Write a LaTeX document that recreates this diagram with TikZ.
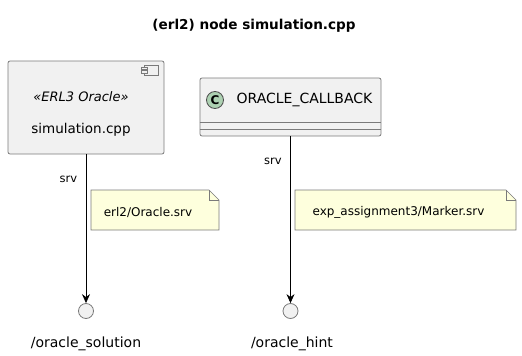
\documentclass[tikz,border=0pt]{standalone}
\usepackage{fontspec}
\setmainfont{DejaVu Sans}
\usepackage{xcolor}
\usepackage{tikz}
\usetikzlibrary{arrows.meta,positioning}
\definecolor{boxfill}{HTML}{F1F1F1}
\definecolor{boxline}{HTML}{7A7A7A}
\definecolor{notefill}{HTML}{FEFFDD}
\definecolor{classicon}{HTML}{ADD1B2}

\tikzset{
  elem/.style={draw=boxline, fill=boxfill, rounded corners=2pt, line width=0.8pt},
  iface/.style={draw=boxline, fill=boxfill, circle, inner sep=0pt, minimum size=15pt, line width=0.8pt},
  notetext/.style={font=\fontsize{12}{14}\selectfont},
  call/.style={-{Stealth[length=9pt,width=8pt,inset=3pt]}, line width=0.8pt},
}

\begin{document}
\begin{tikzpicture}[x=1pt, y=-1pt]
        \useasboundingbox (0,0) rectangle (522,356);

        \path
        (254,26) node(title) {\fontsize{13.6}{16}\selectfont\bfseries (erl2) node simulation.cpp}
        (86,107.5) node[elem, minimum width=156pt, minimum height=93pt](sim) {}
        (81,97) node(stereo) {\fontsize{13}{15}\selectfont\itshape «ERL3 Oracle»}
        (81,130) node(simname) {\fontsize{13.5}{16}\selectfont simulation.cpp}
        (290.5,107) node[elem, minimum width=181pt, minimum height=58pt](cb) {}
        (304.5,100) node(cbname) {\fontsize{14}{16}\selectfont ORACLE\_CALLBACK}
        (86,311) node[iface](sol) {}
        (290.5,311) node[iface](hint) {}
        (86,344) node(solname) {\fontsize{14}{16}\selectfont /oracle\_solution}
        (292,344) node(hintname) {\fontsize{14}{16}\selectfont /oracle\_hint}
        ;

        % component icon
        \draw[boxline, fill=boxfill, line width=0.6pt] (144,65) rectangle (158,75);
        \draw[boxline, fill=boxfill, line width=0.6pt] (141,67) rectangle (147,69.5);
        \draw[boxline, fill=boxfill, line width=0.6pt] (141,70.5) rectangle (147,73);

        % class header
        \node[circle, draw=black!70, fill=classicon, inner sep=0pt, minimum size=17pt,
          line width=0.8pt, font=\fontsize{12}{14}\selectfont\bfseries] (cbicon) at (215,100) {C};
        \draw[boxline, line width=0.8pt] ([yshift=14pt]cb.south west) -- ([yshift=14pt]cb.south east);
        \draw[boxline, line width=0.8pt] ([yshift=7pt]cb.south west) -- ([yshift=7pt]cb.south east);

        % notes
        \draw[boxline, fill=notefill, line width=0.6pt]
          (91,190) -- (209,190) -- (219,200) -- (219,230) -- (91,230) -- cycle;
        \draw[boxline, line width=0.6pt] (209,190) -- (209,200) -- (219,200);
        \node[notetext] (srvnote) at (148,212) {erl2/Oracle.srv};
        \draw[boxline, fill=notefill, line width=0.6pt]
          (295,190) -- (506,190) -- (516,200) -- (516,230) -- (295,230) -- cycle;
        \draw[boxline, line width=0.6pt] (506,190) -- (506,200) -- (516,200);
        \node[notetext] (markernote) at (398.5,212) {exp\_assignment3/Marker.srv};

        \draw[call] (sim) -- (sol)
          node[pos=0.17, left=5pt, font=\fontsize{11.5}{13}\selectfont] {srv};
        \draw[call] (cb) -- (hint)
          node[pos=0.15, left=5pt, font=\fontsize{11.5}{13}\selectfont] {srv};
      \end{tikzpicture}
\end{document}
